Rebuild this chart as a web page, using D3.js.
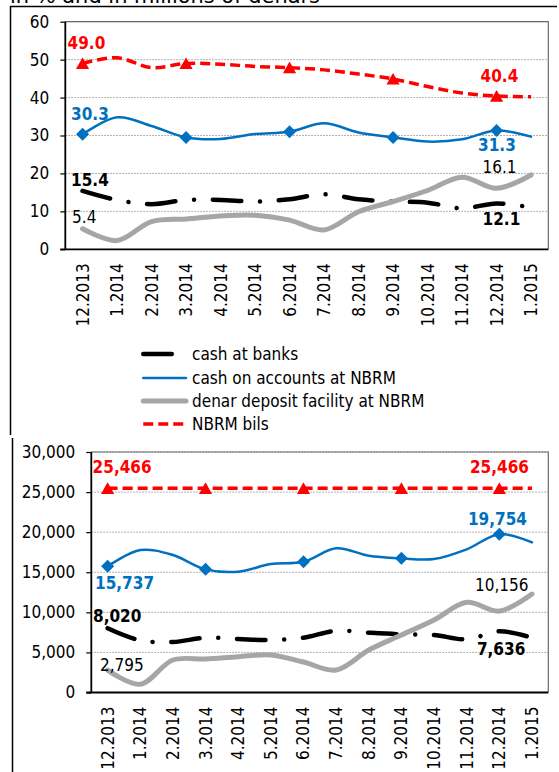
<!DOCTYPE html>
<html><head><meta charset="utf-8">
<script src="https://cdn.jsdelivr.net/npm/d3@7"></script>
<style>
html,body{margin:0;padding:0;background:#fff;}
svg{display:block;}
text{font-family:'DejaVu Sans Condensed','DejaVu Sans',sans-serif;}
</style></head>
<body>
<script>
// ---------- data ----------
const categories = ["12.2013","1.2014","2.2014","3.2014","4.2014","5.2014","6.2014","7.2014","8.2014","9.2014","10.2014","11.2014","12.2014","1.2015"];
const seriesNames = ["cash at banks","cash on accounts at NBRM","denar deposit facility at NBRM","NBRM bils"];

// top panel: in %
const cashPct     = [15.4, 13.0, 11.9, 13.0, 13.0, 12.6, 13.2, 14.5, 13.2, 12.6, 12.3, 10.8, 12.1, 11.0];
const accountsPct = [30.3, 34.8, 32.5, 29.5, 29.1, 30.4, 31.0, 33.2, 30.8, 29.5, 28.4, 29.0, 31.3, 29.7];
const depositPct  = [5.4, 2.3, 7.3, 8.0, 8.8, 9.0, 7.7, 5.1, 9.9, 12.6, 15.5, 19.0, 16.1, 19.6];
const billsPct    = [49.0, 50.5, 47.9, 49.0, 48.8, 48.2, 47.9, 47.3, 46.2, 44.9, 42.9, 41.2, 40.4, 40.2];
const pctTicks    = [0, 10, 20, 30, 40, 50, 60];

// bottom panel: in millions of denars
const cashMkd     = [8020, 6500, 6300, 6833, 6671, 6546, 6833, 7706, 7457, 7257, 7170, 6633, 7636, 6833];
const accountsMkd = [15737, 17768, 17145, 15362, 15063, 16022, 16310, 17980, 17058, 16733, 16646, 17855, 19754, 18728];
const depositMkd  = [2795, 1022, 4053, 4177, 4464, 4676, 3800, 2805, 5300, 7170, 9040, 11247, 10156, 12282];
const billsMkd    = [25466, 25466, 25466, 25466, 25466, 25466, 25466, 25466, 25466, 25466, 25466, 25466, 25466, 25466];
const mkdTicks    = [0, 5000, 10000, 15000, 20000, 25000, 30000];

const markerIdx = [0, 3, 6, 9, 12];
const titleText = "in % and in millions of denars";

// ---------- styles ----------
const styles = [
  {color:"#000000", width:4.5, dash:"28.5 18.75 0.01 18.75", cap:"round"},
  {color:"#0070c0", width:2.5, dash:null, cap:"round", marker:"diamond"},
  {color:"#a6a6a6", width:5, dash:null, cap:"round"},
  {color:"#ff0000", width:3.5, dash:"10 5", cap:"butt", marker:"triangle"}
];
const FONT = "'DejaVu Sans Condensed','DejaVu Sans',sans-serif";

const W = 559, H = 772;
const svg = d3.select("body").append("svg").attr("width", W).attr("height", H);

// title (cut at top, as in the source)
svg.append("text").attr("x", 10).attr("y", 3).attr("font-size", 22).attr("fill", "#000")
  .attr("textLength", 310).attr("lengthAdjust", "spacingAndGlyphs").text(titleText);

// panel frames
svg.append("line").attr("x1", 10).attr("x2", 557).attr("y1", 6.5).attr("y2", 6.5).attr("stroke", "#000").attr("stroke-width", 1.5);
svg.append("line").attr("x1", 10.5).attr("x2", 10.5).attr("y1", 6).attr("y2", 435).attr("stroke", "#000").attr("stroke-width", 1.5);
svg.append("line").attr("x1", 12.5).attr("x2", 12.5).attr("y1", 438).attr("y2", 772).attr("stroke", "#000").attr("stroke-width", 1.5);

const markerPath = {
  diamond: "M0,-6.5L6.5,0L0,6.5L-6.5,0Z",
  triangle: "M0,-6L6.6,5.6L-6.6,5.6Z"
};

function drawChart(cfg) {
  const g = svg.append("g");
  const x = d3.scaleBand().domain(categories).range([cfg.left, cfg.right]);
  const y = d3.scaleLinear().domain([0, cfg.ticks[cfg.ticks.length - 1]]).range([cfg.bottom, cfg.top]);
  const cx = i => x(categories[i]) + x.bandwidth() / 2;

  // gridlines
  g.selectAll(".grid").data(cfg.ticks.filter(t => t > 0)).join("line")
    .attr("x1", cfg.left).attr("x2", cfg.right)
    .attr("y1", d => y(d)).attr("y2", d => y(d))
    .attr("stroke", "#9a9a9a").attr("stroke-width", 1).attr("stroke-dasharray", "1.5 1.5");
  // plot border (top/right)
  g.append("path")
    .attr("d", `M${cfg.left},${cfg.top}H${cfg.right}V${cfg.bottom}`)
    .attr("fill", "none").attr("stroke", "#6a6a6a").attr("stroke-width", 1.2);

  // y axis
  const yAxis = d3.axisLeft(y).tickValues(cfg.ticks).tickFormat(cfg.tickFmt).tickSize(5).tickPadding(11);
  const ya = g.append("g").attr("transform", `translate(${cfg.left},0)`).call(yAxis);
  ya.select(".domain").attr("stroke", "#000").attr("stroke-width", 1.8).attr("d", `M0,${cfg.top}V${cfg.bottom}`);
  ya.selectAll(".tick line").attr("stroke", "#000").attr("stroke-width", 1.2);
  ya.selectAll(".tick text").attr("font-size", 17).attr("fill", "#000").style("font-family", FONT);

  // x axis
  const xAxis = d3.axisBottom(x).tickSize(0).tickPadding(0);
  const xa = g.append("g").attr("transform", `translate(0,${cfg.bottom})`).call(xAxis);
  xa.select(".domain").attr("stroke", "#000").attr("stroke-width", 1.8).attr("d", `M${cfg.left - 5},0H${cfg.right}`);
  xa.selectAll(".tick text")
    .attr("font-size", 17).attr("fill", "#000").style("font-family", FONT)
    .attr("text-anchor", "end")
    .attr("transform", "translate(0,14) rotate(-90)")
    .attr("x", 0).attr("y", 0).attr("dy", "0.35em");

  // lines
  const line = d3.line().x((d, i) => cx(i)).y(d => y(d)).curve(d3.curveCatmullRom.alpha(0.5));
  cfg.series.forEach((vals, si) => {
    const s = styles[si];
    g.append("path").datum(vals).attr("d", line)
      .attr("fill", "none").attr("stroke", s.color).attr("stroke-width", s.width)
      .attr("stroke-linecap", s.cap).attr("stroke-linejoin", "round")
      .attr("stroke-dasharray", s.dash);
    if (s.marker) {
      g.selectAll(null).data(markerIdx).join("path")
        .attr("d", markerPath[s.marker])
        .attr("transform", i => `translate(${cx(i)},${y(vals[i])})`)
        .attr("fill", s.color);
    }
  });

  // data labels
  cfg.labels.forEach(l => {
    const vals = cfg.series[l.s];
    g.append("text")
      .attr("x", cx(l.i) + l.dx).attr("y", y(vals[l.i]) + l.dy)
      .attr("font-size", 17).attr("font-weight", l.bold ? "bold" : "normal")
      .attr("fill", l.color)
      .text(cfg.labelFmt(vals[l.i]));
  });
}

const f1 = d3.format(".1f");
const fc = d3.format(",");

drawChart({
  left: 65.3, right: 548.3, top: 21.7, bottom: 249.3,
  ticks: pctTicks, tickFmt: d3.format("d"), labelFmt: f1,
  series: [cashPct, accountsPct, depositPct, billsPct],
  labels: [
    {s:3, i:0, dx:-15, dy:-14, bold:true, color:"#ff0000"},
    {s:3, i:12, dx:-16, dy:-14, bold:true, color:"#ff0000"},
    {s:1, i:0, dx:-11.5, dy:-14.5, bold:true, color:"#0070c0"},
    {s:1, i:12, dx:-18.5, dy:20, bold:true, color:"#0070c0"},
    {s:0, i:0, dx:-11.5, dy:-5, bold:true, color:"#000"},
    {s:0, i:12, dx:-14, dy:21.6, bold:true, color:"#000"},
    {s:2, i:0, dx:-10.5, dy:-5.5, bold:false, color:"#000"},
    {s:2, i:12, dx:-14, dy:-15, bold:false, color:"#000"}
  ]
});

drawChart({
  left: 91.3, right: 548.3, top: 452, bottom: 692.5,
  ticks: mkdTicks, tickFmt: fc, labelFmt: fc,
  series: [cashMkd, accountsMkd, depositMkd, billsMkd],
  labels: [
    {s:3, i:0, dx:-15, dy:-15, bold:true, color:"#ff0000"},
    {s:3, i:12, dx:-29.4, dy:-15, bold:true, color:"#ff0000"},
    {s:1, i:0, dx:-12.6, dy:23, bold:true, color:"#0070c0"},
    {s:1, i:12, dx:-31.4, dy:-9, bold:true, color:"#0070c0"},
    {s:0, i:0, dx:-14.6, dy:-6.5, bold:true, color:"#000"},
    {s:0, i:12, dx:-22.4, dy:23.7, bold:true, color:"#000"},
    {s:2, i:0, dx:-7.6, dy:1, bold:false, color:"#000"},
    {s:2, i:12, dx:-24.4, dy:-20, bold:false, color:"#000"}
  ]
});

// legend
const legendRows = [354, 378, 401, 424];
const lg = svg.append("g");
seriesNames.forEach((name, si) => {
  const s = styles[si];
  const yy = legendRows[si];
  lg.append("line").attr("x1", 143.25).attr("x2", 186).attr("y1", yy).attr("y2", yy)
    .attr("stroke", s.color).attr("stroke-width", s.width)
    .attr("stroke-linecap", s.cap).attr("stroke-dasharray", s.dash);
  lg.append("text").attr("x", 192).attr("y", yy).attr("dy", "0.35em")
    .attr("font-size", 17).attr("fill", "#000").text(name);
});
</script>
</body></html>
